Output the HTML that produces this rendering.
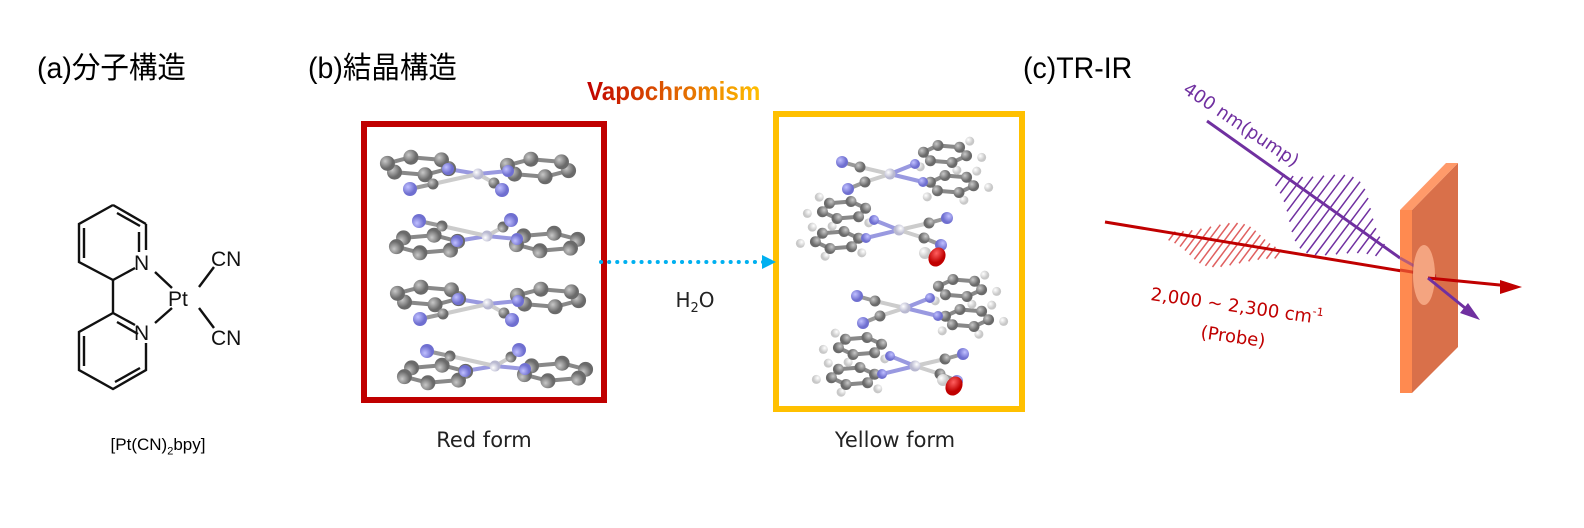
<!DOCTYPE html>
<html><head><meta charset="utf-8"><style>
html,body{margin:0;padding:0;background:#fff;}
body{width:1584px;height:528px;overflow:hidden;position:relative;font-family:"Liberation Sans","Noto Sans CJK JP",sans-serif;}
svg{position:absolute;left:0;top:0;}
.t{position:absolute;font-family:"Liberation Sans","Noto Sans CJK JP",sans-serif;font-size:30px;color:#000;white-space:nowrap;line-height:1;transform:scaleX(0.95);transform-origin:0 0;}
.l{position:absolute;font-size:21px;color:#222;white-space:nowrap;font-family:"DejaVu Sans","Liberation Sans",sans-serif;transform:translateX(-50%);}
</style></head><body>
<div class="t" style="left:37px;top:54px">(a)分子構造</div>
<div class="t" style="left:308px;top:54px">(b)結晶構造</div>
<div class="t" style="left:1023px;top:54px">(c)TR-IR</div>
<div style="position:absolute;left:587px;top:78px;font-size:26px;font-weight:bold;font-family:'Liberation Sans',sans-serif;line-height:1;transform:scaleX(0.93);transform-origin:0 0;background:linear-gradient(90deg,#c00000,#ffc000);-webkit-background-clip:text;background-clip:text;color:transparent">Vapochromism</div>
<div class="l" style="left:484px;top:428px">Red form</div>
<div class="l" style="left:895px;top:428px">Yellow form</div>
<div class="l" style="left:695px;top:288px;font-size:20px">H<sub style="font-size:13px">2</sub>O</div>
<div class="l" style="left:158px;top:435px;font-size:17px;font-family:'Liberation Sans',sans-serif;color:#000">[Pt(CN)<sub style="font-size:11px">2</sub>bpy]</div>

<svg width="1584" height="528" id="s" xmlns="http://www.w3.org/2000/svg">
<defs>
<radialGradient id="gC" cx="35%" cy="35%"><stop offset="0" stop-color="#c8c8c8"/><stop offset="1" stop-color="#6a6a6a"/></radialGradient>
<radialGradient id="gN" cx="35%" cy="35%"><stop offset="0" stop-color="#c0c0ff"/><stop offset="1" stop-color="#6f6fd0"/></radialGradient>
<radialGradient id="gH" cx="35%" cy="35%"><stop offset="0" stop-color="#ffffff"/><stop offset="1" stop-color="#c8c8c8"/></radialGradient>
<radialGradient id="gO" cx="35%" cy="35%"><stop offset="0" stop-color="#ff6060"/><stop offset="1" stop-color="#c00000"/></radialGradient>
<radialGradient id="gP" cx="35%" cy="35%"><stop offset="0" stop-color="#ffffff"/><stop offset="1" stop-color="#b8b8d0"/></radialGradient>
</defs>
<g stroke="#111" stroke-width="2.4" fill="none">
<path d="M113,205 L146,224 M146,224 L146,250 M113,280 L135,268 M113,280 L79,262 L79,224 L113,205"/>
<path d="M117,213 L140,226 M139,232 L139,252 M84,228 L84,258"/>
<path d="M113,280 L113,313"/>
<path d="M113,313 L135,325 M146,343 L146,370 L113,389 L79,370 L79,332 L113,313"/>
<path d="M117,322 L138,334 M140,368 L115,382 M84,336 L84,366"/>
<path d="M155,272 L172,288 M155,323 L172,308 M199,287 L214,267 M199,308 L214,328"/>
</g>
<g font-family="Liberation Sans,sans-serif" font-size="21" fill="#111">
<text x="134" y="270">N</text><text x="134" y="340">N</text>
<text x="168" y="306">Pt</text>
<text x="211" y="266">CN</text><text x="211" y="345">CN</text>
</g>
<rect x="364" y="124" width="240" height="276" fill="none" stroke="#c00000" stroke-width="6"/>
<rect x="776" y="114" width="246" height="295" fill="none" stroke="#ffc000" stroke-width="6"/>
<line x1="601" y1="262" x2="764" y2="262" stroke="#00b0f0" stroke-width="4" stroke-dasharray="0.1 8" stroke-linecap="round"/>
<polygon points="762,255 776,262 762,269" fill="#00b0f0"/>
<g id="mols"></g>
<g id="pulses"></g>
<line x1="1105" y1="222" x2="1408" y2="272" stroke="#c00000" stroke-width="3"/>
<line x1="1207" y1="121" x2="1400" y2="258" stroke="#7030a0" stroke-width="3"/>
<polygon points="1400,210 1412,210 1412,393 1400,393" fill="#ff8a50"/>
<polygon points="1412,210 1458,163 1458,347 1412,393" fill="#d9704a"/>
<polygon points="1400,210 1446,163 1458,163 1412,210" fill="#ff9a6a"/>
<line x1="1400" y1="258" x2="1436" y2="278" stroke="#7030a0" stroke-width="3" opacity="0.5"/>
<line x1="1400" y1="270" x2="1436" y2="276" stroke="#c00000" stroke-width="3" opacity="0.5"/>
<ellipse cx="1424" cy="275" rx="11" ry="30" fill="#f4a480"/>
<line x1="1428" y1="278" x2="1510" y2="286" stroke="#c00000" stroke-width="3"/>
<polygon points="1522,287 1500,280 1500,294" fill="#c00000"/>
<line x1="1428" y1="278" x2="1470" y2="312" stroke="#7030a0" stroke-width="3"/>
<polygon points="1480,320 1460,313 1468,303" fill="#7030a0"/>
<text x="1182" y="92" transform="rotate(34 1182 92)" font-family="DejaVu Sans,sans-serif" font-size="18" fill="#7030a0">400 nm(pump)</text>
<text x="1150" y="300" transform="rotate(8 1150 300)" font-family="DejaVu Sans,sans-serif" font-size="18" fill="#c00000">2,000 ~ 2,300 cm<tspan font-size="11" dy="-8">-1</tspan></text>
<text x="1200" y="338" transform="rotate(8 1200 338)" font-family="DejaVu Sans,sans-serif" font-size="18" fill="#c00000">(Probe)</text>
</svg>
<script>
var NS="http://www.w3.org/2000/svg";
function el(p,t,a){var e=document.createElementNS(NS,t);for(var k in a)e.setAttribute(k,a[k]);p.appendChild(e);return e;}
var M=document.getElementById('mols');
function ring(cx,cy,rx,ry,rot){var p=[];for(var i=0;i<6;i++){var a=rot+i*Math.PI/3;p.push([cx+rx*Math.cos(a),cy+ry*Math.sin(a)]);}return p;}
function mol(tx,ty,sx,sy,kind){
 var g=el(M,'g',{transform:'translate('+tx+','+ty+') scale('+sx+','+sy+')'});
 var bonds=[];
 var r1,r2,Ns,cn,Hs=[];
 if(kind=='r'){
  r1=ring(-60,-8,32,9,0.3); r2=ring(60,-6,32,9,0.3);
  Ns=[[-30,-5],[30,-3]];
  cn=[[[-45,10],[-68,15]],[[16,9],[24,16]]];
 }else{
  r1=ring(55,-20,22,9,0.2); r2=ring(62,10,22,9,0.2);
  Ns=[[25,-10],[33,8]];
  cn=[[[-30,-7],[-48,-12]],[[-25,8],[-42,15]]];
  r1.forEach(function(p,i){if(i!=3&&i!=4)Hs.push([55+(p[0]-55)*1.7,-20+(p[1]+20)*1.9]);});
  r2.forEach(function(p,i){if(i!=3&&i!=4)Hs.push([62+(p[0]-62)*1.7,10+(p[1]-10)*1.9]);});
 }
 [r1,r2].forEach(function(r){for(var i=0;i<6;i++)bonds.push([r[i],r[(i+1)%6],'#888']);});
 Ns.forEach(function(n){bonds.push([[0,0],n,'#9999e0']);});
 cn.forEach(function(c){bonds.push([[0,0],c[0],'#ccc']);bonds.push([c[0],c[1],'#999']);});
 bonds.forEach(function(b){el(g,'line',{x1:b[0][0],y1:b[0][1],x2:b[1][0],y2:b[1][1],stroke:b[2],'stroke-width':4});});
 Hs.forEach(function(h){el(g,'circle',{cx:h[0],cy:h[1],r:4.5,fill:'url(#gH)'});});
 [r1,r2].forEach(function(r){r.forEach(function(p){el(g,'circle',{cx:p[0],cy:p[1],r:kind=='r'?7.5:5.5,fill:'url(#gC)'});});});
 Ns.forEach(function(n){el(g,'circle',{cx:n[0],cy:n[1],r:kind=='r'?6:5,fill:'url(#gN)'});});
 cn.forEach(function(c){el(g,'circle',{cx:c[0][0],cy:c[0][1],r:5.5,fill:'url(#gC)'});el(g,'circle',{cx:c[1][0],cy:c[1][1],r:kind=='r'?7:6,fill:'url(#gN)'});});
 el(g,'circle',{cx:0,cy:0,r:5.5,fill:'url(#gP)'});
}
mol(478,174,1,1,'r');
mol(487,236,1,-1,'r');
mol(488,304,1,1,'r');
mol(495,366,1,-1,'r');
mol(890,174,1,1,'y');
mol(899,230,-1,1,'y');
mol(905,308,1,1,'y');
mol(915,366,-1,1,'y');
el(M,'circle',{cx:925,cy:253,r:6,fill:'url(#gH)'});
el(M,'ellipse',{cx:937,cy:257,rx:8,ry:10,fill:'url(#gO)',transform:'rotate(30 937 257)'});
el(M,'circle',{cx:943,cy:380,r:6,fill:'url(#gH)'});
el(M,'ellipse',{cx:954,cy:386,rx:8,ry:10,fill:'url(#gO)',transform:'rotate(30 954 386)'});
var P=document.getElementById('pulses');
function pulse(x0,y0,x1,y1,n,len,col,dx,dy){
 for(var i=0;i<n;i++){var t=i/(n-1);var cx=x0+(x1-x0)*t,cy=y0+(y1-y0)*t;var a=Math.exp(-Math.pow((t-0.5)*3.0,2));var L=len*a+3;
  el(P,'line',{x1:cx-dx*L,y1:cy-dy*L,x2:cx+dx*L,y2:cy+dy*L,stroke:col,'stroke-width':1.5});}
}
pulse(1172,236,1278,254,16,24,'#e06060',0.6,-0.8);
pulse(1280,180,1380,250,16,42,'#7030a0',0.6,-0.8);
</script>
</body></html>
